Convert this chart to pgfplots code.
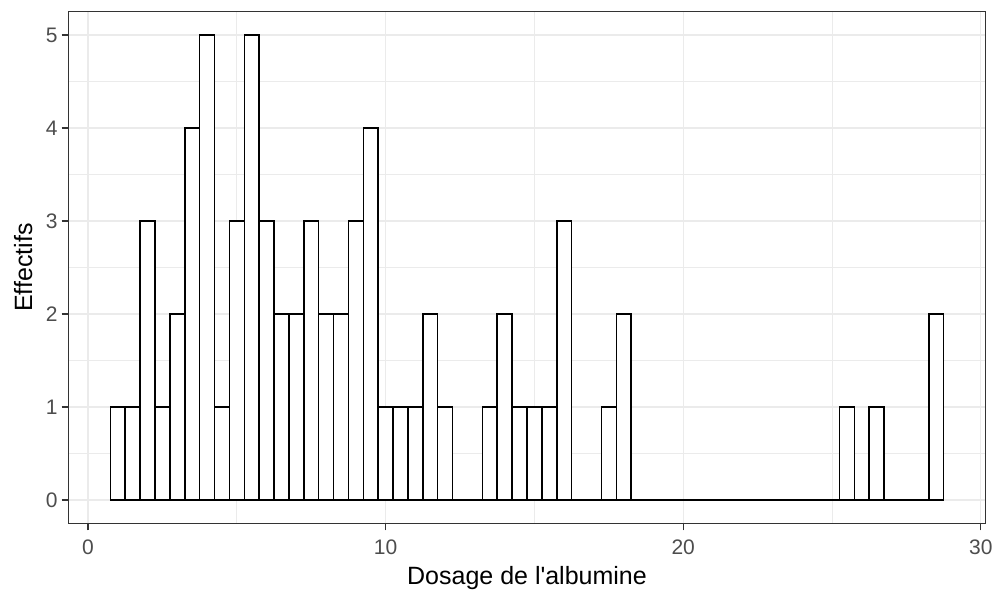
\documentclass[border=0pt]{standalone}
\usepackage{pgfplots}
\pgfplotsset{compat=1.18}
\usepackage{fontspec}
\setmainfont{Liberation Sans}[Ligatures=TeXOff]
\definecolor{gridc}{HTML}{EBEBEB}
\definecolor{gtwenty}{HTML}{333333}
\definecolor{gthirty}{HTML}{4D4D4D}
\begin{document}
\begin{tikzpicture}
\useasboundingbox (-68.7pt,-67.7pt) rectangle (925.3pt,523.3pt);
\begin{axis}[
  at={(0,0)}, anchor=south west,
  scale only axis, width=916.6pt, height=511.6pt,
  xmin=-0.65, xmax=30.15, ymin=-0.25, ymax=5.25,
  xtick={0,10,20,30}, minor xtick={5,15,25},
  ytick={0,1,2,3,4,5}, minor ytick={0.5,1.5,2.5,3.5,4.5},
  grid=both,
  major grid style={draw=gridc, line width=1.3pt},
  minor grid style={draw=gridc, line width=0.7pt},
  axis line style={draw=gtwenty, line width=1.2pt},
  tick align=outside, tick pos=left,
  major tick length=7pt,
  minor tick length=0pt,
  every tick/.style={draw=gtwenty, line width=1.2pt},
  /pgf/number format/assume math mode=true,
  xticklabel style={anchor=base, yshift=-24pt, font=\fontsize{21}{24}\selectfont, text=gthirty},
  yticklabel style={anchor=east, xshift=-0.5pt, font=\fontsize{21}{24}\selectfont, text=gthirty},
  xlabel={Dosage de l'albumine},
  ylabel={Effectifs},
  every axis x label/.style={at={(axis description cs:0.5,0)}, anchor=base, yshift=-61.7pt, font=\fontsize{25}{29}\selectfont, text=black},
  every axis y label/.style={at={([xshift=-45.5pt]axis description cs:0,0.5)}, anchor=center, rotate=90, font=\fontsize{25}{29}\selectfont, text=black},
]
\addplot[ybar interval, fill=white, draw=black, line width=1.5pt] table[x=x, y=n] {
x n
0.75 1
1.25 1
1.75 3
2.25 1
2.75 2
3.25 4
3.75 5
4.25 1
4.75 3
5.25 5
5.75 3
6.25 2
6.75 2
7.25 3
7.75 2
8.25 2
8.75 3
9.25 4
9.75 1
10.25 1
10.75 1
11.25 2
11.75 1
12.25 0
12.75 0
13.25 1
13.75 2
14.25 1
14.75 1
15.25 1
15.75 3
16.25 0
16.75 0
17.25 1
17.75 2
18.25 0
18.75 0
19.25 0
19.75 0
20.25 0
20.75 0
21.25 0
21.75 0
22.25 0
22.75 0
23.25 0
23.75 0
24.25 0
24.75 0
25.25 1
25.75 0
26.25 1
26.75 0
27.25 0
27.75 0
28.25 2
28.75 0
};
\end{axis}
\end{tikzpicture}
\end{document}
